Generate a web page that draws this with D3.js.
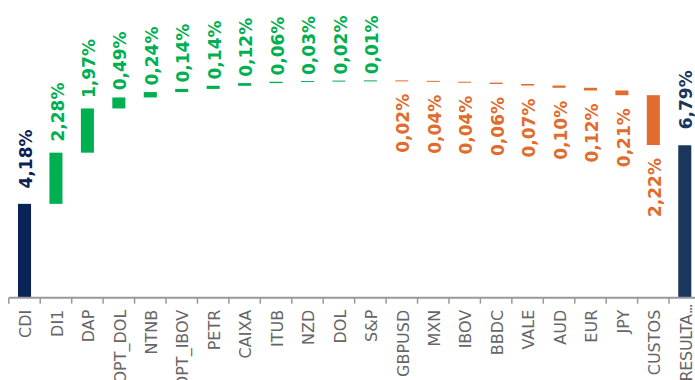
<!DOCTYPE html>
<html>
<head>
<meta charset="utf-8">
<script src="https://cdn.jsdelivr.net/npm/d3@7"></script>
<style>
html,body{margin:0;padding:0;background:#fff;overflow:hidden;}
svg{display:block;}
</style>
</head>
<body>
<svg id="chart" width="695" height="380"></svg>
<script>
const categories = ["CDI","DI1","DAP","OPT_DOL","NTNB","OPT_IBOV","PETR","CAIXA","ITUB","NZD","DOL","S&P","GBPUSD","MXN","IBOV","BBDC","VALE","AUD","EUR","JPY","CUSTOS","RESULTADO"];
const values = [4.18,2.28,1.97,0.49,0.24,0.14,0.14,0.12,0.06,0.03,0.02,0.01,-0.02,-0.04,-0.04,-0.06,-0.07,-0.10,-0.12,-0.21,-2.22,6.79];
const kinds = ["start","step","step","step","step","step","step","step","step","step","step","step","step","step","step","step","step","step","step","step","step","total"];

const colors = {start:"#0a2356", total:"#1b365d", up:"#00b050", down:"#e06c2d"};

const svg = d3.select("#chart");
const W = 695, H = 380;
const baseY = 297.7;

// waterfall data
let cum = 0;
const data = categories.map((c,i)=>{
  const v = values[i];
  let y0, y1;
  if (kinds[i] === "start" || kinds[i] === "total") { y0 = 0; y1 = v; cum = v; }
  else { y0 = cum; y1 = cum + v; cum = y1; }
  const color = kinds[i]==="start" ? colors.start : kinds[i]==="total" ? colors.total : (v>=0 ? colors.up : colors.down);
  return {cat:c, v, y0, y1, kind:kinds[i], color};
});

const x = d3.scaleBand().domain(categories).range([8.8, 700.5]).padding(0);
const y = d3.scaleLinear().domain([0, 10]).range([baseY, baseY - 224.5]);
const barW = x.bandwidth() * 0.415;
const fmt = v => d3.format(".2f")(Math.abs(v)).replace(".", ",") + "%";

// bars
svg.append("g").selectAll("rect").data(data).join("rect")
  .attr("x", d => x(d.cat) + x.bandwidth()/2 - barW/2)
  .attr("width", barW)
  .attr("y", d => Math.min(y(d.y0), y(d.y1)))
  .attr("height", d => Math.max(1, Math.abs(y(d.y0) - y(d.y1))))
  .attr("fill", d => d.color);

// value labels
svg.append("g").selectAll("text").data(data).join("text")
  .attr("transform", d => {
    const cx = x(d.cat) + x.bandwidth()/2;
    const top = Math.min(y(d.y0), y(d.y1));
    const bot = Math.max(y(d.y0), y(d.y1));
    const h = bot - top;
    if (d.v >= 0) {
      const gap = Math.min(16, 6 + h*0.1);
      return `translate(${cx},${top - gap}) rotate(-90)`;
    } else {
      return `translate(${cx},${bot + 13}) rotate(-90)`;
    }
  })
  .attr("text-anchor", d => d.v >= 0 ? "start" : "end")
  .attr("dy", "0.45em")
  .attr("font-family", "DejaVu Sans, Verdana, sans-serif")
  .attr("font-weight", "bold")
  .attr("font-size", "17px")
  .attr("fill", d => d.color)
  .text(d => fmt(d.v));

// axis
const ax = svg.append("g");
ax.append("line")
  .attr("x1", x.range()[0]).attr("x2", W + 10)
  .attr("y1", baseY).attr("y2", baseY)
  .attr("stroke", "#999").attr("stroke-width", 2);
const bounds = categories.map(c => x(c)).concat([x.range()[1]]);
ax.selectAll("line.tick").data(bounds).join("line")
  .attr("class","tick")
  .attr("x1", d => d).attr("x2", d => d)
  .attr("y1", baseY).attr("y2", baseY + 6)
  .attr("stroke", "#999").attr("stroke-width", 1.5);

const labels = ax.selectAll("text").data(categories).join("text")
  .attr("transform", c => `translate(${x(c) + x.bandwidth()/2},${baseY + (c.length > 8 ? 8 : 12)}) rotate(-90)`)
  .attr("text-anchor", "end")
  .attr("dy", "0.42em")
  .attr("font-family", "DejaVu Sans, Verdana, sans-serif")
  .attr("font-size", "16px")
  .attr("fill", "#666");
labels.each(function(c){
  const t = d3.select(this);
  if (c.length > 8) {
    t.append("tspan").attr("letter-spacing", "-0.3px").text(c.slice(0,7));
    t.append("tspan").attr("letter-spacing", "-2.2px").text("...");
  } else {
    t.text(c);
  }
});
</script>
</body>
</html>
